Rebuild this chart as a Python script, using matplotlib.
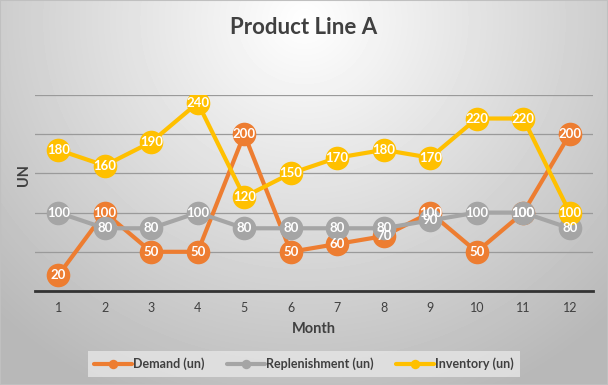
import matplotlib
matplotlib.use('Agg')
import matplotlib.pyplot as plt
import numpy as np

months = [1, 2, 3, 4, 5, 6, 7, 8, 9, 10, 11, 12]
demand = [20, 100, 50, 50, 200, 50, 60, 70, 100, 50, 100, 200]
replenishment = [100, 80, 80, 100, 80, 80, 80, 80, 90, 100, 100, 80]
inventory = [180, 160, 190, 240, 120, 150, 170, 180, 170, 220, 220, 100]

series_names = ['Demand (un)', 'Replenishment (un)', 'Inventory (un)']
series_colors = ['#ED7D31', '#A5A5A5', '#FFC000']

plt.rcParams['font.family'] = ['Lato', 'DejaVu Sans']

fig = plt.figure(figsize=(6.08, 3.85), dpi=100)

# radial gradient background, light near the top centre
bg = fig.add_axes([0, 0, 1, 1], zorder=-10)
yy, xx = np.mgrid[0:385, 0:608]
r = np.sqrt(((xx - 304) / 420.0) ** 2 + ((yy - 20) / 400.0) ** 2)
shade = np.clip(1.0 - 0.27 * r, 0.72, 1.0)
bg.imshow(shade, cmap='gray', vmin=0, vmax=1, aspect='auto', interpolation='bilinear')
bg.set_axis_off()
fig.patches.append(plt.Rectangle((0, 0), 1, 1, transform=fig.transFigure,
                                 fill=False, edgecolor='#C0C0C0', linewidth=1.5, zorder=5))

ax = fig.add_axes([35 / 608, 94 / 385, 558 / 608, 196 / 385])
ax.patch.set_alpha(0)

for i, (vals, col, name) in enumerate(zip([demand, replenishment, inventory], series_colors, series_names)):
    ax.plot(months, vals, color=col, linewidth=3, marker='o', markersize=17,
            markeredgewidth=0, label=name, zorder=3 + i, solid_capstyle='round')

for vals in [demand, replenishment, inventory]:
    for m, v in zip(months, vals):
        ax.text(m, v, str(v), color='white', ha='center', va='center',
                fontsize=9.5, fontweight='bold', zorder=10)

ax.set_xlim(0.5, 12.5)
ax.set_ylim(0, 250)
ax.set_yticks([0, 50, 100, 150, 200, 250])
ax.set_yticklabels([])
ax.tick_params(axis='y', length=0)
ax.set_xticks(months)
ax.tick_params(axis='x', length=0, labelsize=9, colors='#404040', pad=8)
ax.grid(axis='y', color='#9A9A9A', linewidth=0.9)
ax.set_axisbelow(True)
for s in ['top', 'right', 'left']:
    ax.spines[s].set_visible(False)
ax.spines['bottom'].set_color('#333333')
ax.spines['bottom'].set_linewidth(2)
ax.spines['bottom'].set_zorder(2)

ax.set_xlabel('Month', fontsize=10.5, fontweight='bold', color='#404040', labelpad=6)
fig.text(24 / 608, 1 - 175 / 385, 'UN', rotation=90, fontsize=10.5, fontweight='bold',
         color='#404040', ha='center', va='center')
fig.text(0.5, 1 - 27 / 385, 'Product Line A', fontsize=16, fontweight='bold',
         color='#404040', ha='center', va='center')

leg = fig.legend(loc='center', bbox_to_anchor=(0.5, 1 - 364 / 385), ncol=3,
                 fontsize=9, frameon=True, handlelength=3.0, markerscale=0.4,
                 columnspacing=1.8, handletextpad=0.1, borderpad=0.25)
leg.get_frame().set_facecolor('#E6E6E6')
leg.get_frame().set_alpha(0.8)
leg.get_frame().set_edgecolor('none')
leg.get_frame().set_boxstyle('square', pad=0.25)
for t in leg.get_texts():
    t.set_color('#404040')
    t.set_fontweight('bold')

fig.savefig('out.png', dpi=100)
